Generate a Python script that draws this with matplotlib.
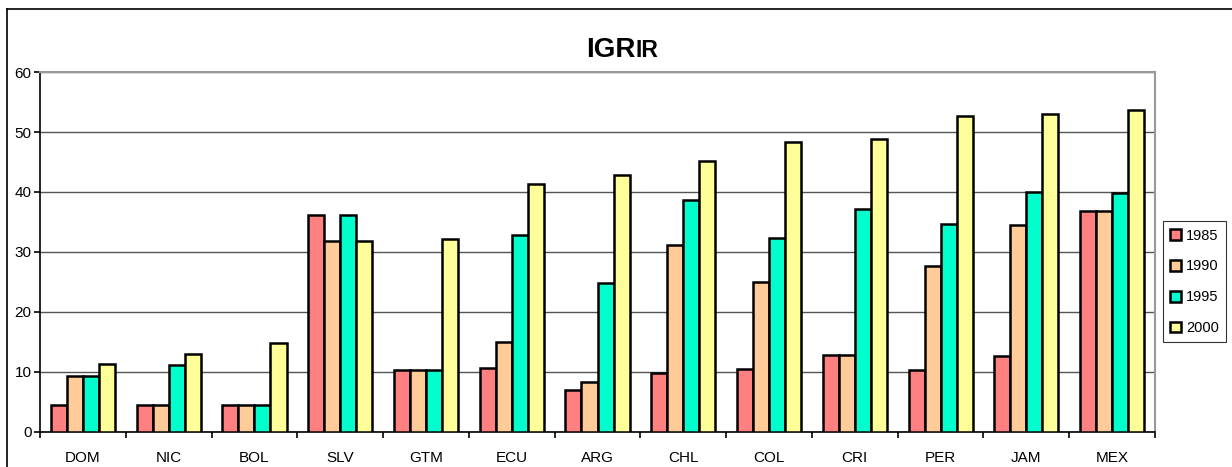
import numpy as np
import matplotlib
matplotlib.use("Agg")
from matplotlib import pyplot as plt
from matplotlib.lines import Line2D

plt.rcParams['font.family'] = ['Liberation Sans', 'DejaVu Sans']

countries = ["DOM", "NIC", "BOL", "SLV", "GTM", "ECU", "ARG", "CHL", "COL", "CRI", "PER", "JAM", "MEX"]
years = ["1985", "1990", "1995", "2000"]

v1985 = [4.5, 4.5, 4.5, 36.1, 10.3, 10.7, 7.0, 9.9, 10.5, 12.8, 10.4, 12.7, 36.8]
v1990 = [9.4, 4.5, 4.5, 31.8, 10.3, 15.0, 8.4, 31.1, 25.0, 12.8, 27.6, 34.5, 36.8]
v1995 = [9.4, 11.2, 4.5, 36.1, 10.3, 32.9, 24.8, 38.6, 32.4, 37.1, 34.7, 40.0, 39.8]
v2000 = [11.3, 13.0, 14.9, 31.8, 32.1, 41.3, 42.8, 45.1, 48.4, 48.9, 52.6, 53.0, 53.7]

colors = ["#FF8080", "#FFCC99", "#00FFCC", "#FFFF99"]

fig = plt.figure(figsize=(12.32, 4.67), dpi=100)
ax = fig.add_axes([0.0325, 0.075, 0.905, 0.7708])

x = np.arange(len(countries))
w = 0.187
series = [v1985, v1990, v1995, v2000]
for i, vals in enumerate(series):
    ax.bar(x + (i - 1.5) * w, vals, w, color=colors[i], edgecolor="black",
           linewidth=1.8, label=years[i], zorder=3)

ax.set_xlim(-0.5, len(countries) - 0.5)
ax.set_ylim(0, 60)
ax.set_yticks(range(0, 61, 10))
ax.yaxis.grid(True, color="#555555", linewidth=1.0, zorder=0)

ax.set_xticks(x)
ax.set_xticklabels(countries)
ax.set_xticks(np.arange(-0.5, len(countries)), minor=True)
ax.tick_params(axis="x", which="major", length=0, pad=14, labelsize=11)
ax.tick_params(axis="x", which="minor", length=4, direction="out", width=1.2)
ax.tick_params(axis="y", length=4, width=1.2, labelsize=11, pad=2)

for s in ["top", "right"]:
    ax.spines[s].set_color("#999999")
    ax.spines[s].set_linewidth(1.5)
for s in ["left", "bottom"]:
    ax.spines[s].set_color("black")
    ax.spines[s].set_linewidth(1.2)

fig.text(0.516, 0.878, "IGR", fontsize=20, fontweight="bold", ha="right", va="baseline")
fig.text(0.516, 0.878, "IR", fontsize=16.5, fontweight="bold", ha="left", va="baseline")

leg = ax.legend(loc="center left", bbox_to_anchor=(1.003, 0.417), frameon=True, fancybox=False,
                edgecolor="black", fontsize=10.5, handlelength=0.75, handleheight=0.75,
                handletextpad=0.35, labelspacing=1.15, borderpad=0.5, borderaxespad=0.3)
leg.get_frame().set_linewidth(0.8)

# outer frame: only top and left edges are visible in the reference
fig.add_artist(Line2D([0.0057, 1.0], [0.9807, 0.9807], transform=fig.transFigure,
                      color="black", linewidth=1.2))
fig.add_artist(Line2D([0.0057, 0.0057], [0.0, 0.9807], transform=fig.transFigure,
                      color="black", linewidth=1.2))

fig.savefig("out.png", dpi=100)
